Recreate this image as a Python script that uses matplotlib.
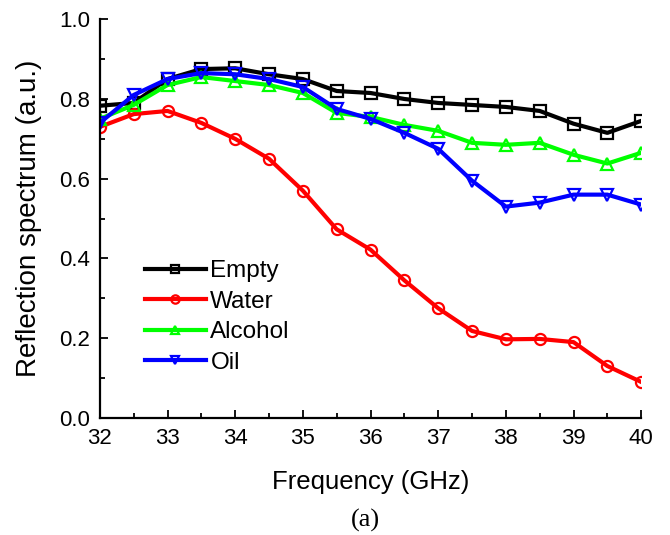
import matplotlib.pyplot as plt
from matplotlib.ticker import MultipleLocator

# Frequency points (GHz)
freq = [32, 32.5, 33, 33.5, 34, 34.5, 35, 35.5, 36, 36.5, 37, 37.5, 38, 38.5, 39, 39.5, 40]

# Reflection spectrum readings for each sample
empty = [0.783, 0.79, 0.85, 0.875, 0.877, 0.862, 0.85, 0.82, 0.815, 0.80, 0.79, 0.785, 0.78, 0.77, 0.738, 0.715, 0.745]
water = [0.73, 0.762, 0.77, 0.74, 0.70, 0.65, 0.57, 0.473, 0.422, 0.345, 0.275, 0.218, 0.197, 0.198, 0.19, 0.13, 0.09]
alcohol = [0.75, 0.785, 0.835, 0.855, 0.845, 0.835, 0.815, 0.765, 0.755, 0.735, 0.72, 0.69, 0.685, 0.69, 0.66, 0.638, 0.665]
oil = [0.74, 0.81, 0.85, 0.865, 0.862, 0.85, 0.83, 0.775, 0.75, 0.715, 0.675, 0.595, 0.53, 0.54, 0.56, 0.56, 0.535]

plt.rcParams['font.family'] = ['Liberation Sans', 'DejaVu Sans']

fig = plt.figure(figsize=(6.7, 5.35), dpi=100)
ax = fig.add_axes([0.149, 0.219, 0.808, 0.745])

style = dict(linewidth=3, markersize=8, markerfacecolor='none', markeredgewidth=1.6)
ax.plot(freq, empty, color='black', marker='s', label='Empty', **style)
ax.plot(freq, water, color='red', marker='o', label='Water', **style)
ax.plot(freq, alcohol, color='#00ff00', marker='^', label='Alcohol', **style)
ax.plot(freq, oil, color='blue', marker='v', label='Oil', **style)

ax.set_xlim(32, 40)
ax.set_ylim(0, 1.0)
ax.xaxis.set_major_locator(MultipleLocator(1))
ax.xaxis.set_minor_locator(MultipleLocator(0.5))
ax.yaxis.set_major_locator(MultipleLocator(0.2))
ax.yaxis.set_minor_locator(MultipleLocator(0.1))
ax.yaxis.set_major_formatter(plt.FormatStrFormatter('%.1f'))
ax.tick_params(which='both', direction='in', labelsize=16, pad=7)
ax.tick_params(which='major', length=6, width=1.3)
ax.tick_params(which='minor', length=3.5, width=1.3)
ax.spines['top'].set_visible(False)
ax.spines['right'].set_visible(False)
ax.spines['left'].set_linewidth(1.6)
ax.spines['bottom'].set_linewidth(1.6)

ax.set_xlabel('Frequency (GHz)', fontsize=18.5)
ax.set_ylabel('Reflection spectrum (a.u.)', fontsize=20)
ax.xaxis.set_label_coords(0.5, -0.13)
ax.yaxis.set_label_coords(-0.107, 0.5)

ax.legend(loc='upper left', bbox_to_anchor=(0.083, 0.395), frameon=False,
          fontsize=17.5, handlelength=2.5, labelspacing=0.35, handletextpad=0.2,
          borderpad=0, borderaxespad=0, markerscale=0.75)

fig.text(0.545, 0.015, '(a)', fontsize=19, family='Liberation Serif', ha='center')

fig.savefig('out.png', dpi=100)
